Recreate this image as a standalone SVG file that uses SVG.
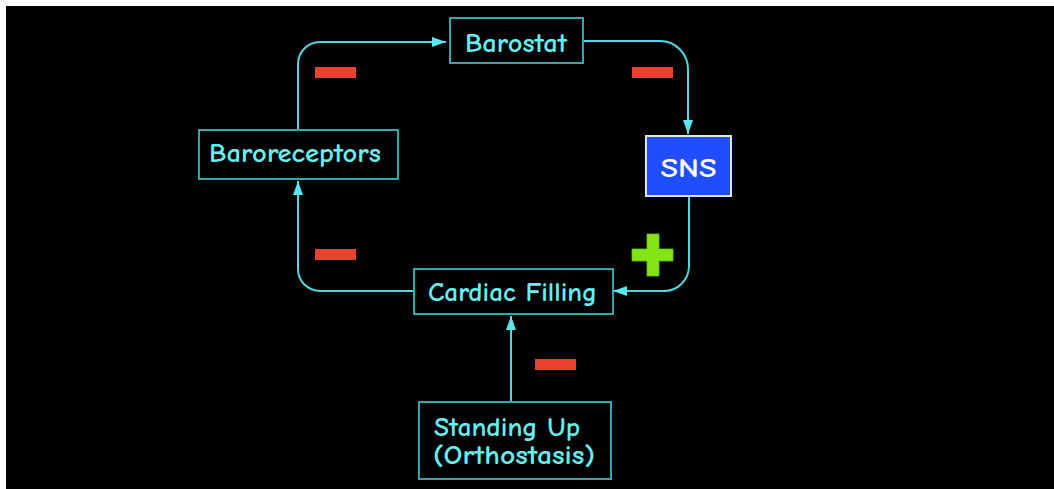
<svg xmlns="http://www.w3.org/2000/svg" width="1054" height="489" viewBox="0 0 1054 489">
<defs>
<style>
.box{fill:#000;stroke:#2fa9b0;stroke-width:2}
.lbl{font-family:"Comic Neue","DejaVu Sans",sans-serif;font-size:27px;font-weight:bold;fill:#66f0f2}
.conn{fill:none;stroke:#4fd8e0;stroke-width:2}
.minus{fill:#e8432f}
</style>
<marker id="ah" viewBox="0 0 14 10" refX="14" refY="5" markerWidth="14" markerHeight="10" markerUnits="userSpaceOnUse" orient="auto">
<path d="M0,0 L14,5 L0,10 Z" fill="#5ae6ee"/>
</marker>
</defs>
<rect x="0" y="0" width="1054" height="489" fill="#fff"/>
<rect x="6" y="6" width="1048" height="483" fill="#000"/>
<g id="connectors">
<path class="conn" d="M298,130 V64 A22,22 0 0 1 320,42 H446" marker-end="url(#ah)"/>
<path class="conn" d="M583,41 H660 A28,28 0 0 1 688,69 V134" marker-end="url(#ah)"/>
<path class="conn" d="M689,196 V266 A25,25 0 0 1 664,291 H613" marker-end="url(#ah)"/>
<path class="conn" d="M414,291 H320 A22,22 0 0 1 298,269 V181" marker-end="url(#ah)"/>
<path class="conn" d="M511,403 V316" marker-end="url(#ah)"/>
</g>
<g id="signs">
<rect class="minus" x="315" y="67" width="41" height="11"/>
<rect class="minus" x="632" y="67" width="41" height="11"/>
<rect class="minus" x="315" y="249" width="41" height="11"/>
<rect class="minus" x="535" y="359" width="41" height="11"/>
<path d="M647,234 H659 V249 H673 V261 H659 V276 H647 V261 H632 V249 H647 Z" fill="#82e414" stroke="#6cc010" stroke-width="0.8"/>
</g>
<g id="barostat">
<rect class="box" x="450" y="18" width="133" height="45"/>
<text class="lbl" x="465" y="52" textLength="102" lengthAdjust="spacingAndGlyphs">Barostat</text>
</g>
<g id="baroreceptors">
<rect class="box" x="199" y="130" width="199" height="49"/>
<text class="lbl" x="209" y="162" textLength="172" lengthAdjust="spacingAndGlyphs">Baroreceptors</text>
</g>
<g id="sns">
<rect x="646" y="136" width="85" height="60" fill="#1f4dff" stroke="#e4e4e4" stroke-width="2"/>
<text x="688.5" y="177" text-anchor="middle" font-family="Comic Neue, DejaVu Sans, sans-serif" font-weight="bold" font-size="27" fill="#fff" textLength="56" lengthAdjust="spacingAndGlyphs">SNS</text>
</g>
<g id="cardiac">
<rect class="box" x="414" y="269" width="199" height="45"/>
<text class="lbl" x="428" y="301" textLength="169" lengthAdjust="spacingAndGlyphs">Cardiac Filling</text>
</g>
<g id="standing">
<rect class="box" x="419" y="402" width="192" height="77"/>
<text class="lbl" x="434" y="436" textLength="146" lengthAdjust="spacingAndGlyphs">Standing Up</text>
<text class="lbl" x="433" y="464" textLength="162" lengthAdjust="spacingAndGlyphs">(Orthostasis)</text>
</g>
</svg>
